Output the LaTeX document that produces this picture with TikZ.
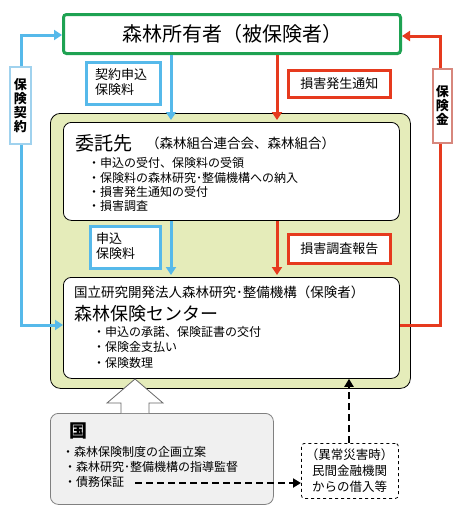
\documentclass[tikz,border=0pt]{standalone}
\usepackage{fontspec}
\setmainfont{Noto Sans CJK JP}
\usetikzlibrary{arrows.meta}
\definecolor{cblue}{RGB}{86,185,234}
\definecolor{cred}{RGB}{230,58,30}
\definecolor{cgreen}{RGB}{30,162,82}
\definecolor{khaki}{RGB}{229,236,186}
\definecolor{gbox}{RGB}{240,240,240}
\definecolor{lblue}{RGB}{160,210,238}
\definecolor{lred}{RGB}{215,135,125}
\newcommand{\fs}[1]{\fontsize{#1}{#1}\selectfont}
\begin{document}
\begin{tikzpicture}[x=1pt,y=-1pt,
  box/.style={inner sep=0pt, anchor=north west},
  txt/.style={inner sep=0pt, anchor=west},
  bline/.style={draw=cblue, line width=3pt, -{Triangle[length=8pt,width=10pt]}},
  rline/.style={draw=cred, line width=3pt, -{Triangle[length=8pt,width=10pt]}},
  dline/.style={draw=black, line width=2.5pt, dash pattern=on 7pt off 4pt, -{Triangle[length=8pt,width=9pt]}},
  lbox/.style={box, fill=white, line width=2.5pt},
  side/.style={box, fill=white, line width=1.5pt, font=\bfseries\fs{13}, align=center}
]
\useasboundingbox (0,0) rectangle (462,512);

% main boxes
\node[box, draw=cgreen, line width=3pt, rounded corners=3pt, fill=white,
      minimum width=337pt, minimum height=39pt, font=\fs{20}] (owner) at (62,13) {森林所有者（被保険者）};
\node[box, draw=black, line width=0.8pt, rounded corners=10pt, fill=khaki,
      minimum width=360pt, minimum height=275pt] (khakibox) at (50,113) {};
\node[box, draw=black, line width=0.8pt, rounded corners=8pt, fill=white,
      minimum width=336pt, minimum height=98pt] (itaku) at (63,122) {};
\node[box, draw=black, line width=0.8pt, rounded corners=8pt, fill=white,
      minimum width=336pt, minimum height=101pt] (center) at (63,277) {};
\node[box, draw=gray, line width=0.8pt, rounded corners=8pt, fill=gbox,
      minimum width=223pt, minimum height=91pt] (kuni) at (50,413) {};
\node[box, draw=black, line width=0.8pt, dashed, rounded corners=3pt, fill=white,
      minimum width=97pt, minimum height=55pt] (loan) at (301,443) {};

% texts in itaku
\node[txt, font=\fs{19}] (itakut) at (75,143) {委託先};
\node[txt, font=\fs{13.5}] (itakus) at (146,143) {（森林組合連合会、森林組合）};
\node[txt, font=\fs{12}] (i1) at (88,163) {・申込の受付、保険料の受領};
\node[txt, font=\fs{12}] (i2) at (88,178) {・保険料の森林研究･整備機構への納入};
\node[txt, font=\fs{12}] (i3) at (88,192) {・損害発生通知の受付};
\node[txt, font=\fs{12}] (i4) at (88,206) {・損害調査};

% texts in center
\node[txt, font=\fs{13.5}] (c0) at (74,292) {国立研究開発法人森林研究･整備機構（保険者）};
\node[txt, font=\fs{18}] (c1) at (74,314) {森林保険センター};
\node[txt, font=\fs{12}] (c2) at (93,332) {・申込の承諾、保険証書の交付};
\node[txt, font=\fs{12}] (c3) at (93,347) {・保険金支払い};
\node[txt, font=\fs{12}] (c4) at (93,363) {・保険数理};

% texts in kuni
\node[txt, font=\bfseries\fs{18}] (k0) at (69,431) {国};
\node[txt, font=\fs{12}] (k1) at (62,452) {・森林保険制度の企画立案};
\node[txt, font=\fs{12}] (k2) at (64,467) {・森林研究･整備機構の指導監督};
\node[txt, font=\fs{12}] (k3) at (64,482) {・債務保証};

% loan text
\node[inner sep=0pt, align=center, font=\fontsize{12.5}{16}\selectfont] (loant) at (349.5,471) {（異常災害時）\\民間金融機関\\からの借入等};

% coordinates
\coordinate (xb) at (171,0);
\coordinate (xr) at (277,0);
\coordinate (xl) at (349,0);
\coordinate (lt) at (21,35);
\coordinate (lb) at (21,325);
\coordinate (rt) at (440,36);
\coordinate (rb) at (440,325);
\coordinate (kd) at (135,483);

% connectors
\draw[bline, {Triangle[length=8pt,width=10pt]}-{Triangle[length=8pt,width=10pt]}] (lt -| owner.west) -- (lt) -- (lb) -- (lb -| center.west);
\draw[rline] (rb -| center.east) -- (rb) -- (rt) -- (rt -| owner.east);
\draw[bline, shorten >=2pt] (owner.south -| xb) -- (itaku.north -| xb);
\draw[rline, shorten >=2pt] (owner.south -| xr) -- (itaku.north -| xr);
\draw[bline, shorten >=2pt] (itaku.south -| xb) -- (center.north -| xb);
\draw[rline, shorten >=2pt] (itaku.south -| xr) -- (center.north -| xr);
\draw[dline] (kd) -- (kd -| loan.west);
\draw[dline] (loan.north -| xl) -- (center.south -| xl);

% big hollow arrow
\draw[draw=gray!80!black, line width=0.8pt, fill=white]
  (121,413) -- (121,403) -- (107,403) -- (135,379) -- (163,403) -- (149,403) -- (149,413);

% labels
\node[lbox, draw=cblue, minimum width=74pt, minimum height=42pt] (lab1) at (85,61) {};
\node[inner sep=0pt, anchor=north west, align=left, font=\fontsize{13}{15.5}\selectfont] (lab1t) at (95,68) {契約申込\\保険料};
\node[lbox, draw=cred, minimum width=102pt, minimum height=27pt, font=\fs{13}] (lab2) at (287,69) {損害発生通知};
\node[lbox, draw=cblue, minimum width=70pt, minimum height=42pt] (lab3) at (89,225) {};
\node[inner sep=0pt, anchor=north west, align=left, font=\fontsize{13}{15.5}\selectfont] (lab3t) at (96,232) {申込\\保険料};
\node[lbox, draw=cred, minimum width=102pt, minimum height=29pt, font=\fs{13}] (lab4) at (287,233) {損害調査報告};

% side labels
\node[side, draw=lblue, minimum width=21pt, minimum height=77pt, font=\bfseries\fontsize{13}{14}\selectfont] (sideL) at (9,66) {保\\険\\契\\約};
\node[side, draw=lred, minimum width=19pt, minimum height=74pt, font=\bfseries\fontsize{13}{14}\selectfont] (sideR) at (432,68) {保\\険\\金};
\end{tikzpicture}
\end{document}
